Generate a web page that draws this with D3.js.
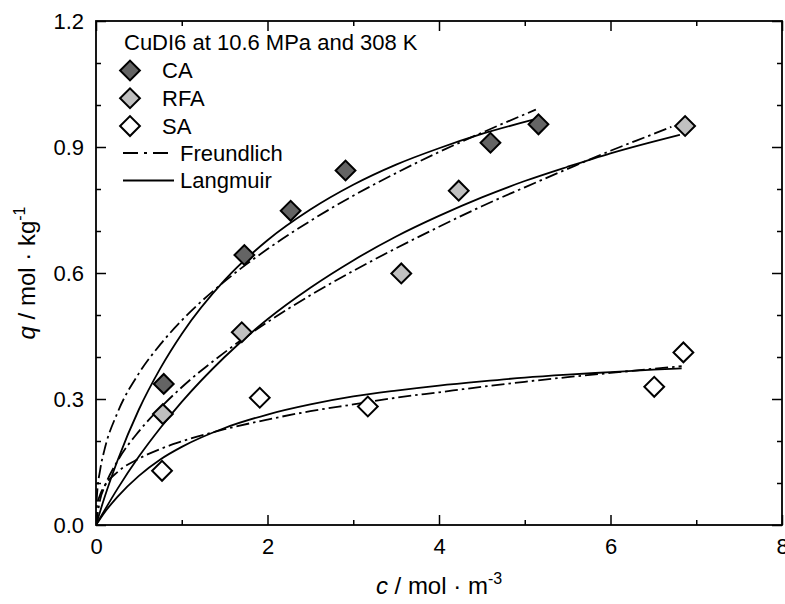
<!DOCTYPE html>
<html>
<head>
<meta charset="utf-8">
<script src="https://cdn.jsdelivr.net/npm/d3@7"></script>
<style>
  html, body { margin: 0; padding: 0; background: #fff; }
  svg { display: block; font-family: "Liberation Sans", Arial, sans-serif; }
</style>
</head>
<body>
<svg id="chart" width="785" height="604"></svg>
<script>
// Measured isotherm points, c in mol/m^3, q in mol/kg
const caC  = [0.79, 1.73, 2.27, 2.91, 4.60, 5.16];
const caQ  = [0.336, 0.643, 0.748, 0.844, 0.910, 0.954];
const rfaC = [0.78, 1.70, 3.56, 4.23, 6.87];
const rfaQ = [0.264, 0.459, 0.599, 0.796, 0.950];
const saC  = [0.77, 1.91, 3.17, 6.51, 6.85];
const saQ  = [0.129, 0.303, 0.282, 0.329, 0.411];

// Fitted model curves (tabulated)
const caLangC  = [0, 0.1, 0.25, 0.5, 0.75, 1, 1.5, 2, 2.5, 3, 3.5, 4, 4.5, 5.1];
const caLangQ  = [0, 0.066, 0.153, 0.275, 0.373, 0.455, 0.583, 0.678, 0.751, 0.810, 0.858, 0.897, 0.931, 0.965];
const caFreuC  = [0, 0.01, 0.05, 0.1, 0.25, 0.5, 0.75, 1, 1.5, 2, 2.5, 3, 3.5, 4, 4.5, 5.13];
const caFreuQ  = [0, 0.066, 0.133, 0.180, 0.267, 0.361, 0.430, 0.487, 0.580, 0.657, 0.724, 0.784, 0.838, 0.888, 0.934, 0.989];
const rfaLangC = [0, 0.25, 0.5, 0.75, 1, 1.5, 2, 2.5, 3, 3.5, 4, 4.5, 5, 5.5, 6, 6.5, 6.81];
const rfaLangQ = [0, 0.086, 0.163, 0.231, 0.293, 0.400, 0.490, 0.565, 0.630, 0.687, 0.736, 0.780, 0.819, 0.853, 0.885, 0.913, 0.929];
const rfaFreuC = [0, 0.05, 0.1, 0.25, 0.5, 0.75, 1, 1.5, 2, 2.5, 3, 3.5, 4, 4.5, 5, 5.5, 6, 6.5, 6.71];
const rfaFreuQ = [0, 0.062, 0.091, 0.152, 0.223, 0.279, 0.328, 0.411, 0.483, 0.547, 0.605, 0.659, 0.710, 0.759, 0.804, 0.848, 0.891, 0.931, 0.948];
const saLangC  = [0, 0.1, 0.25, 0.5, 0.75, 1, 1.5, 2, 2.5, 3, 3.5, 4, 4.5, 5, 5.5, 6, 6.5, 6.83];
const saLangQ  = [0, 0.030, 0.067, 0.117, 0.156, 0.186, 0.231, 0.263, 0.287, 0.306, 0.320, 0.332, 0.342, 0.351, 0.358, 0.364, 0.370, 0.373];
const saFreuC  = [0, 0.01, 0.05, 0.1, 0.25, 0.5, 0.75, 1, 1.5, 2, 2.5, 3, 3.5, 4, 4.5, 5, 5.5, 6, 6.5, 6.83];
const saFreuQ  = [0, 0.043, 0.073, 0.093, 0.126, 0.158, 0.181, 0.199, 0.228, 0.251, 0.271, 0.287, 0.303, 0.316, 0.329, 0.341, 0.352, 0.362, 0.372, 0.378];

const xMajor = [0, 2, 4, 6, 8];
const xMinor = [1, 3, 5, 7];
const yMajor = [0, 0.3, 0.6, 0.9, 1.2];
const yMinor = [0.1, 0.2, 0.4, 0.5, 0.7, 0.8, 1.0, 1.1];

const legendTitle = "CuDI6 at 10.6 MPa and 308 K";
const seriesNames = ["CA", "RFA", "SA"];
const seriesFill = ["#646464", "#c0c0c0", "#ffffff"];
const modelNames = ["Freundlich", "Langmuir"];

const svg = d3.select("#chart");
const L = 96, R = 782, T = 21, B = 525;
const x = d3.scaleLinear().domain([0, 8]).range([L, R]);
const y = d3.scaleLinear().domain([0, 1.2]).range([B, T]);

const FS = 22;      // tick labels and legend
const TFS = 24;     // axis titles
const dashDot = "13,4,2.5,4";

// clip for curves
svg.append("defs").append("clipPath").attr("id", "plotClip")
  .append("rect").attr("x", L).attr("y", T).attr("width", R - L).attr("height", B - T);

const zip = (cs, qs) => cs.map((c, i) => [c, qs[i]]);
const line = d3.line().x(d => x(d[0])).y(d => y(d[1])).curve(d3.curveMonotoneX);

const curves = [
  [caFreuC, caFreuQ, true], [caLangC, caLangQ, false],
  [rfaFreuC, rfaFreuQ, true], [rfaLangC, rfaLangQ, false],
  [saFreuC, saFreuQ, true], [saLangC, saLangQ, false]
];
const gCurves = svg.append("g").attr("clip-path", "url(#plotClip)");
curves.forEach(([cs, qs, dashed]) => {
  gCurves.append("path")
    .datum(zip(cs, qs))
    .attr("d", line)
    .attr("fill", "none")
    .attr("stroke", "#000")
    .attr("stroke-width", 1.8)
    .attr("stroke-dasharray", dashed ? dashDot : null);
});

const fmtY = d3.format(".1f");
const fmtX = d3.format("d");

function drawAxis(transform, axis) {
  const g = svg.append("g").attr("transform", transform).call(axis);
  g.select(".domain").remove();
  g.selectAll(".tick line").attr("stroke", "#000").attr("stroke-width", 1.5);
  g.selectAll(".tick text").attr("fill", "#000").attr("font-size", FS)
    .attr("font-family", "Liberation Sans, Arial, sans-serif");
  return g;
}

// bottom
drawAxis(`translate(0,${B})`, d3.axisBottom(x).tickValues(xMajor).tickSize(-10).tickPadding(13).tickFormat(fmtX));
drawAxis(`translate(0,${B})`, d3.axisBottom(x).tickValues(xMinor).tickSize(-5).tickFormat(() => ""));
// top
drawAxis(`translate(0,${T})`, d3.axisTop(x).tickValues(xMajor).tickSize(-10).tickFormat(() => ""));
drawAxis(`translate(0,${T})`, d3.axisTop(x).tickValues(xMinor).tickSize(-5).tickFormat(() => ""));
// left
drawAxis(`translate(${L},0)`, d3.axisLeft(y).tickValues(yMajor).tickSize(-10).tickPadding(12).tickFormat(fmtY));
drawAxis(`translate(${L},0)`, d3.axisLeft(y).tickValues(yMinor).tickSize(-5).tickFormat(() => ""));
// right
drawAxis(`translate(${R},0)`, d3.axisRight(y).tickValues(yMajor).tickSize(-10).tickFormat(() => ""));
drawAxis(`translate(${R},0)`, d3.axisRight(y).tickValues(yMinor).tickSize(-5).tickFormat(() => ""));

// frame
svg.append("rect").attr("x", L).attr("y", T).attr("width", R - L).attr("height", B - T)
  .attr("fill", "none").attr("stroke", "#000").attr("stroke-width", 1.8);

// markers
const diamond = d3.symbol().type(d3.symbolSquare).size(196);
const pointSets = [[caC, caQ], [rfaC, rfaQ], [saC, saQ]];
pointSets.forEach(([cs, qs], i) => {
  svg.append("g").selectAll("path").data(zip(cs, qs)).join("path")
    .attr("d", diamond)
    .attr("transform", d => `translate(${x(d[0])},${y(d[1])}) rotate(45)`)
    .attr("fill", seriesFill[i])
    .attr("stroke", "#000")
    .attr("stroke-width", 2);
});

// legend
const leg = svg.append("g").attr("font-size", FS).attr("fill", "#000");
leg.append("text").attr("x", 124).attr("y", 50).text(legendTitle);
seriesNames.forEach((n, i) => {
  const cy = 70.5 + i * 27.8;
  leg.append("path").attr("d", diamond)
    .attr("transform", `translate(130,${cy}) rotate(45)`)
    .attr("fill", seriesFill[i]).attr("stroke", "#000").attr("stroke-width", 2);
  leg.append("text").attr("x", 162).attr("y", cy + 7.5).text(n);
});
modelNames.forEach((n, i) => {
  const cy = 153 + i * 27.5;
  leg.append("line").attr("x1", 123).attr("x2", 174).attr("y1", cy).attr("y2", cy)
    .attr("stroke", "#000").attr("stroke-width", 1.8)
    .attr("stroke-dasharray", i === 0 ? "15,6,3,6" : null);
  leg.append("text").attr("x", 180).attr("y", cy + 7.5).text(n);
});

// axis titles
const xt = svg.append("text").attr("x", (L + R) / 2).attr("y", 594)
  .attr("text-anchor", "middle").attr("font-size", TFS).attr("fill", "#000");
xt.append("tspan").attr("font-style", "italic").text("c");
xt.append("tspan").text(" / mol · m");
xt.append("tspan").attr("font-size", 16).attr("dy", -10).text("-3");

const yt = svg.append("text")
  .attr("transform", `translate(35,${(T + B) / 2}) rotate(-90)`)
  .attr("text-anchor", "middle").attr("font-size", TFS).attr("fill", "#000");
yt.append("tspan").attr("font-style", "italic").text("q");
yt.append("tspan").text(" / mol · kg");
yt.append("tspan").attr("font-size", 16).attr("dy", -10).text("-1");
</script>
</body>
</html>
